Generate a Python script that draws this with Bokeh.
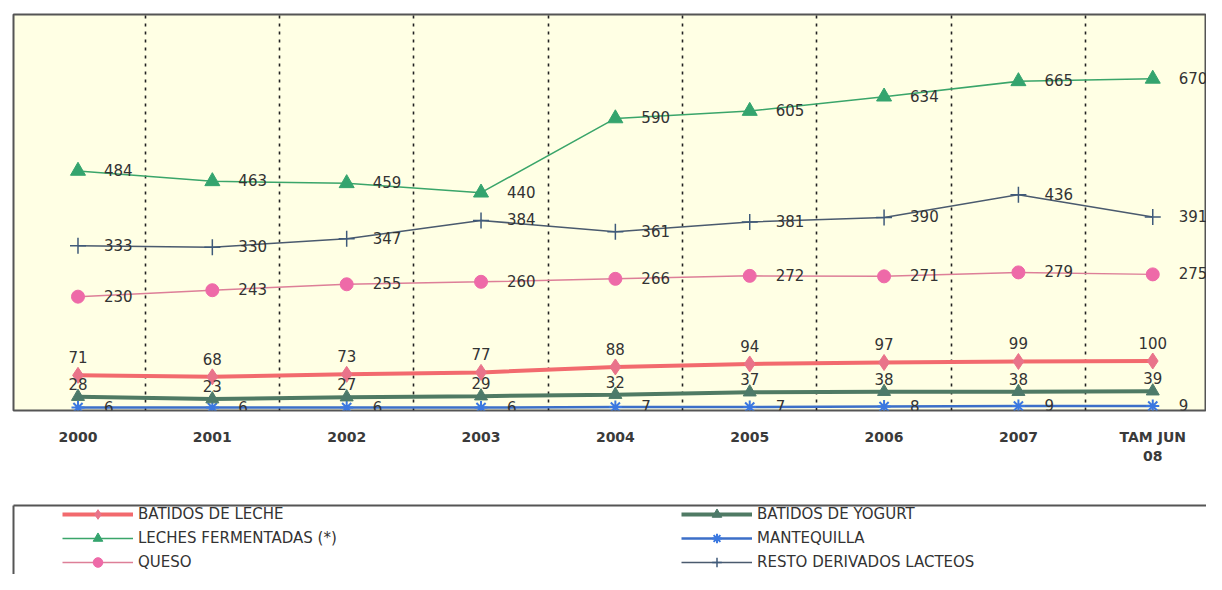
from bokeh.plotting import figure
from bokeh.models import (ColumnDataSource, Range1d, FixedTicker, Legend, LegendItem)
from bokeh.layouts import column
from bokeh.embed import file_html
from bokeh.resources import INLINE
from bokeh.core.properties import value

# ---------------- data ----------------
categories = ["2000", "2001", "2002", "2003", "2004", "2005", "2006", "2007", "TAM JUN 08"]
tick_labels = ["2000", "2001", "2002", "2003", "2004", "2005", "2006", "2007", "TAM JUN\n08"]

batidos_leche = [71, 68, 73, 77, 88, 94, 97, 99, 100]
batidos_yogurt = [28, 23, 27, 29, 32, 37, 38, 38, 39]
leches_fermentadas = [484, 463, 459, 440, 590, 605, 634, 665, 670]
mantequilla = [6, 6, 6, 6, 7, 7, 8, 9, 9]
queso = [230, 243, 255, 260, 266, 272, 271, 279, 275]
resto_derivados = [333, 330, 347, 384, 361, 381, 390, 436, 391]

names = {
    "leche": "BATIDOS DE LECHE",
    "yogurt": "BATIDOS DE YOGURT",
    "ferm": "LECHES FERMENTADAS (*)",
    "mant": "MANTEQUILLA",
    "queso": "QUESO",
    "resto": "RESTO DERIVADOS LACTEOS",
}
values = {
    "leche": batidos_leche,
    "yogurt": batidos_yogurt,
    "ferm": leches_fermentadas,
    "mant": mantequilla,
    "queso": queso,
    "resto": resto_derivados,
}

# ---------------- styles ----------------
styles = {
    "resto": dict(line="#4a5a6e", lw=1.5, marker="cross", size=16, fill="#3f5a7a", mline="#3f5a7a", mlw=1.5,
                  lab="right"),
    "queso": dict(line="#dd7f98", lw=1.5, marker="circle", size=13, fill="#ee6aa8", mline="#ee6aa8", mlw=1,
                  lab="right"),
    "ferm": dict(line="#3aa56a", lw=1.5, marker="triangle", size=15, fill="#34a46e", mline="#34a46e", mlw=1,
                 lab="right"),
    "mant": dict(line="#3c6fc8", lw=2.5, marker="asterisk", size=13, fill="#3b78e0", mline="#3b78e0", mlw=2,
                 lab="right"),
    "yogurt": dict(line="#4f7a64", lw=4, marker="triangle", size=13, fill="#4d7a6a", mline="#4d7a6a", mlw=1,
                   lab="above_small"),
    "leche": dict(line="#f26a6e", lw=4, marker="diamond", size=16, fill="#e9738a", mline="#e9738a", mlw=1,
                  lab="above"),
}
draw_order = ["resto", "queso", "ferm", "mant", "yogurt", "leche"]
legend_order = ["leche", "ferm", "queso", "yogurt", "mant", "resto"]

FONT = "DejaVu Sans"
positions = list(range(len(categories)))

# ---------------- main chart ----------------
p = figure(width=1206, height=504,
           x_range=Range1d(-0.48, len(categories) - 0.6), y_range=Range1d(0, 800),
           output_backend="svg", toolbar_location=None, y_axis_location=None,
           min_border_left=13, min_border_right=0, min_border_top=14, min_border_bottom=94,
           background_fill_color="#FFFFE4", border_fill_color="white",
           outline_line_color="#555555", outline_line_width=2)

ax = p.xaxis[0]
ax.ticker = FixedTicker(ticks=positions)
ax.major_label_overrides = {i: lab for i, lab in zip(positions, tick_labels)}
ax.axis_line_color = None
ax.major_tick_line_color = None
ax.minor_tick_line_color = None
ax.major_tick_out = 0
ax.major_tick_in = 0
ax.minor_tick_out = 0
ax.major_label_standoff = 18
ax.major_label_text_font = FONT
ax.major_label_text_font_style = "bold"
ax.major_label_text_font_size = "14px"
ax.major_label_text_color = "#3a3a3a"

p.ygrid.visible = False
p.xgrid[0].ticker = FixedTicker(ticks=[i + 0.5 for i in positions[:-1]])
p.xgrid.grid_line_color = "#222222"
p.xgrid.grid_line_width = 1.6
p.xgrid.grid_line_dash = "3 5"

sources = {}
for key in draw_order:
    vals = values[key]
    sources[key] = ColumnDataSource(dict(x=positions, cat=categories, y=vals,
                                         lbl=[str(v) for v in vals]))

for key in draw_order:
    st = styles[key]
    src = sources[key]
    p.line("x", "y", source=src, line_color=st["line"], line_width=st["lw"])
    p.scatter("x", "y", source=src, marker=st["marker"], size=st["size"],
              fill_color=st["fill"], line_color=st["mline"], line_width=st["mlw"])

for key in draw_order:
    st = styles[key]
    src = sources[key]
    if st["lab"] == "right":
        kw = dict(x_offset=26, y_offset=-1, text_align="left", text_baseline="middle")
    elif st["lab"] == "above":
        kw = dict(x_offset=0, y_offset=-18, text_align="center", text_baseline="middle")
    else:
        kw = dict(x_offset=0, y_offset=-13, text_align="center", text_baseline="middle")
    p.text("x", "y", text="lbl", source=src, text_font=value(FONT), text_font_size="15px",
           text_color="#333333", **kw)

# ---------------- legend panel ----------------
q = figure(width=1206, height=70, x_range=Range1d(0, 1), y_range=Range1d(0, 1),
           output_backend="svg", toolbar_location=None, x_axis_location="above",
           min_border_left=0, min_border_top=1, min_border_right=0, min_border_bottom=0,
           background_fill_color="white", border_fill_color="white",
           outline_line_color=None)
q.grid.visible = False
for axis in (q.xaxis[0], q.yaxis[0]):
    axis.ticker = FixedTicker(ticks=[])
    axis.major_label_text_font_size = "0px"
    axis.major_tick_out = 0
    axis.major_tick_in = 0
    axis.minor_tick_out = 0
    axis.minor_tick_in = 0
    axis.major_label_standoff = 0
    axis.axis_label_standoff = 0
    axis.axis_line_color = "#555555"
    axis.axis_line_width = 2

items = []
for key in legend_order:
    st = styles[key]
    src = sources[key]
    lr = q.line("x", "y", source=src, line_color=st["line"], line_width=st["lw"], visible=False)
    sr = q.scatter("x", "y", source=src, marker=st["marker"], size=st["size"],
                   fill_color=st["fill"], line_color=st["mline"], line_width=st["mlw"], visible=False)
    items.append(LegendItem(label=names[key], renderers=[lr, sr]))

legend = Legend(items=items, location=(49, 0), orientation="vertical", ncols=2,
                glyph_width=71, glyph_height=24, label_height=24, label_width=543,
                label_standoff=5, spacing=0, padding=0, margin=0,
                border_line_color=None, background_fill_alpha=0,
                label_text_font=FONT, label_text_font_size="15px", label_text_color="#333333")
q.add_layout(legend)

layout = column(p, q, spacing=0)
open("out.html", "w").write(file_html(layout, INLINE))
